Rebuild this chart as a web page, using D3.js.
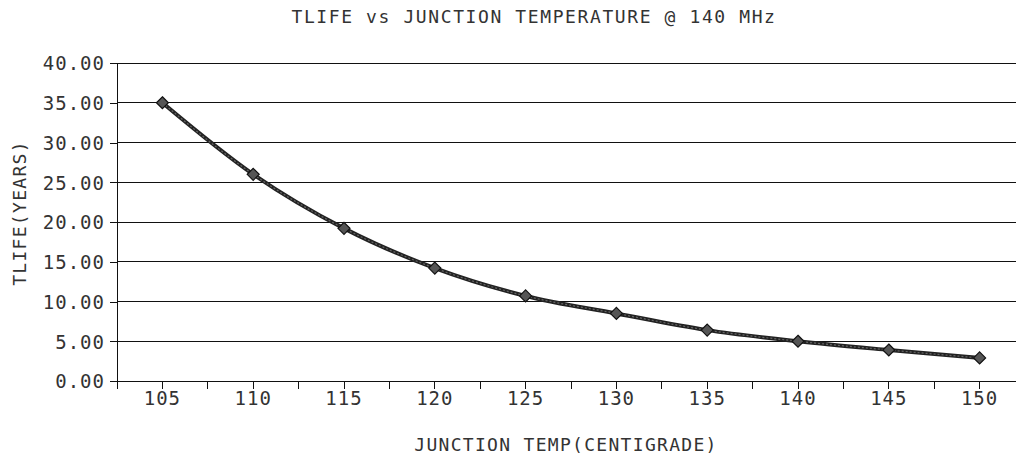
<!DOCTYPE html>
<html>
<head>
<meta charset="utf-8">
<script src="https://cdn.jsdelivr.net/npm/d3@7"></script>
<style>
  body { margin: 0; background: #fff; }
  svg text { font-family: "DejaVu Sans Mono", monospace; fill: #333; }
</style>
</head>
<body>
<svg width="1016" height="456"></svg>
<script>
// chart data
const temps = [105, 110, 115, 120, 125, 130, 135, 140, 145, 150];
const tlife = [35.0, 26.0, 19.2, 14.2, 10.7, 8.5, 6.4, 5.0, 3.9, 2.9];
const yTicks = [0, 5, 10, 15, 20, 25, 30, 35, 40];

const svg = d3.select("svg");
const mLeft = 117, mRight = 1025, mTop = 63, mBottom = 381;

const x = d3.scaleBand().domain(temps).range([mLeft, mRight]);
const y = d3.scaleLinear().domain([0, 40]).range([mBottom, mTop]);
const cx = d => x(d) + x.bandwidth() / 2;

// horizontal gridlines
svg.append("g").selectAll("line").data(yTicks.slice(1)).join("line")
    .attr("x1", mLeft).attr("x2", mRight)
    .attr("y1", d => y(d)).attr("y2", d => y(d))
    .attr("stroke", "#111").attr("stroke-width", 1)
    .attr("shape-rendering", "crispEdges");

// y axis
const axisY = d3.axisLeft(y).tickValues(yTicks).tickSize(7).tickPadding(5)
    .tickFormat(d3.format(".2f"));
const gy = svg.append("g").attr("transform", `translate(${mLeft},0)`).call(axisY);
gy.selectAll("path, line").attr("stroke", "#111").attr("shape-rendering", "crispEdges");
gy.select(".domain").attr("d", `M0,${mBottom}V${mTop - 0.5}`);
gy.selectAll("text").style("font-size", "19px").style("letter-spacing", "1px")
    .attr("dy", "0.36em").attr("fill", "#333");

// x axis
const gx = svg.append("g").attr("transform", `translate(0,${mBottom})`);
gx.append("line").attr("x1", mLeft).attr("x2", mRight).attr("stroke", "#111")
    .attr("shape-rendering", "crispEdges");
const tickPos = [];
temps.forEach(t => { tickPos.push(x(t)); tickPos.push(cx(t)); });
gx.selectAll("line.tk").data(tickPos).join("line").attr("class", "tk")
    .attr("x1", d => d).attr("x2", d => d).attr("y1", 0).attr("y2", 8)
    .attr("stroke", "#111").attr("shape-rendering", "crispEdges");
gx.selectAll("text").data(temps).join("text")
    .attr("x", d => cx(d)).attr("y", 24)
    .attr("text-anchor", "middle")
    .style("font-size", "19px").style("letter-spacing", "1px")
    .text(d => d);

// line
const line = d3.line().x((d, i) => cx(temps[i])).y(d => y(d)).curve(d3.curveMonotoneX);
svg.append("path").datum(tlife).attr("d", line)
    .attr("fill", "none").attr("stroke", "#222").attr("stroke-width", 4);
svg.append("path").datum(tlife).attr("d", line)
    .attr("fill", "none").attr("stroke", "#666").attr("stroke-width", 1.2)
    .attr("stroke-dasharray", "2,2");

// diamond markers
svg.append("g").selectAll("path").data(tlife).join("path")
    .attr("transform", (d, i) => `translate(${cx(temps[i])},${y(d)})`)
    .attr("d", "M0,-6L6,0L0,6L-6,0Z")
    .attr("fill", "#555").attr("stroke", "#111").attr("stroke-width", 1.2);

// titles
svg.append("text").attr("x", 534).attr("y", 23).attr("text-anchor", "middle")
    .style("font-size", "18px").style("letter-spacing", "1.6px")
    .text("TLIFE vs JUNCTION TEMPERATURE @ 140 MHz");
svg.append("text").attr("x", 566).attr("y", 451).attr("text-anchor", "middle")
    .style("font-size", "18px").style("letter-spacing", "1.3px")
    .text("JUNCTION TEMP(CENTIGRADE)");
svg.append("text").attr("transform", "translate(26,213) rotate(-90)")
    .attr("text-anchor", "middle")
    .style("font-size", "18px").style("letter-spacing", "1.3px")
    .text("TLIFE(YEARS)");
</script>
</body>
</html>
